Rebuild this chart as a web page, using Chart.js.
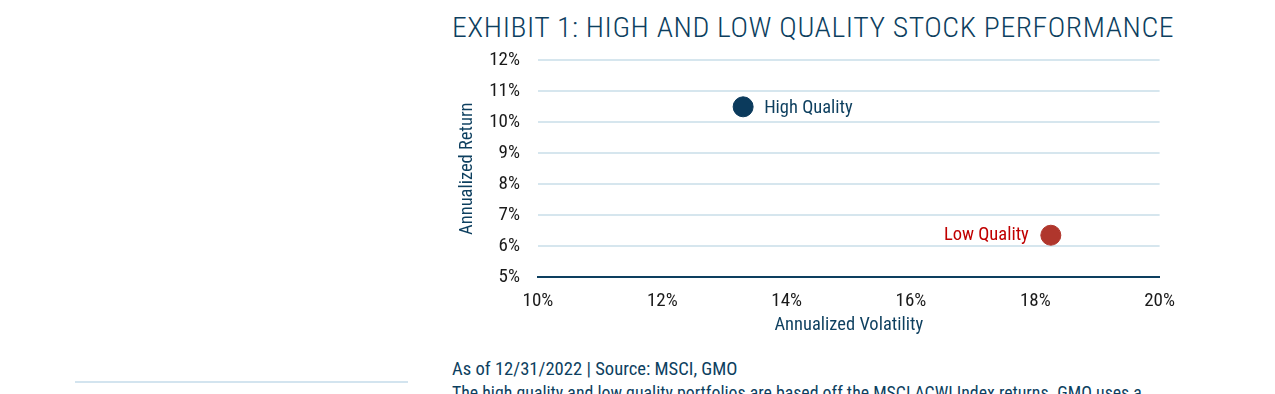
<!DOCTYPE html>
<html lang="en">
<head>
    <meta charset="UTF-8">
    <title>Exhibit 1: High and Low Quality Stock Performance</title>
    <script src="https://cdn.jsdelivr.net/npm/chart.js"></script>
    <style>
        body { margin: 0; background: #fff; font-family: 'Roboto Condensed', 'Liberation Sans Narrow', Roboto, sans-serif; overflow: hidden; }
        #title { position: absolute; left: 452px; top: 12px; font-size: 27px; font-weight: 300; color: #0d3f5f; white-space: nowrap; transform-origin: 0 0; letter-spacing: 0.5px; }
        #wrap { position: absolute; left: 440px; top: 31px; width: 748px; height: 309px; }
        #source { position: absolute; left: 452px; top: 358px; font-size: 18px; color: #0d3f5f; white-space: nowrap; transform-origin: 0 0; }
        #note { position: absolute; left: 452px; top: 382px; font-size: 18px; color: #0d3f5f; white-space: nowrap; transform-origin: 0 0; }
        #rule { position: absolute; left: 75px; top: 381px; width: 333px; height: 2px; background: #d3e4ef; }
    </style>
</head>
<body>
    <div id="title">EXHIBIT 1: HIGH AND LOW QUALITY STOCK PERFORMANCE</div>
    <div id="wrap"><canvas id="myChart"></canvas></div>
    <div id="source">As of 12/31/2022 | Source: MSCI, GMO</div>
    <div id="note">The high quality and low quality portfolios are based off the MSCI ACWI Index returns. GMO uses a</div>
    <div id="rule"></div>
    <script>
    // data
    const portfolios = ['High Quality', 'Low Quality'];
    const volatility = [13.3, 18.25];   // x, %
    const returns = [10.5, 6.35];       // y, %
    const pointColors = ['#0b3a5c', '#b0362c'];
    const labelColors = ['#0d3f5f', '#c00000'];
    const xTicks = [10, 12, 14, 16, 18, 20];
    const yTicks = [5, 6, 7, 8, 9, 10, 11, 12];

    const fam = "'Roboto Condensed', 'Liberation Sans Narrow', Roboto, sans-serif";

    // squeeze html text to the width it has in the picture
    function fitWidth(id, w) {
        const el = document.getElementById(id);
        el.style.transform = 'scaleX(' + (w / el.offsetWidth) + ')';
    }
    fitWidth('title', 722);
    fitWidth('source', 286);
    fitWidth('note', 690);

    // labels beside the points
    const pointLabels = {
        id: 'pointLabels',
        afterDatasetsDraw(chart) {
            const ctx = chart.ctx;
            ctx.save();
            ctx.font = '18.5px ' + fam;
            ctx.textBaseline = 'middle';
            chart.data.datasets.forEach((ds, i) => {
                const pt = chart.getDatasetMeta(i).data[0];
                ctx.fillStyle = labelColors[i];
                if (i === 0) {
                    ctx.textAlign = 'left';
                    ctx.fillText(ds.label, pt.x + 21, pt.y + 2);
                } else {
                    ctx.textAlign = 'right';
                    ctx.fillText(ds.label, pt.x - 22, pt.y);
                }
            });
            ctx.restore();
        }
    };

    const ctx = document.getElementById('myChart').getContext('2d');
    new Chart(ctx, {
        type: 'scatter',
        data: {
            datasets: portfolios.map((name, i) => ({
                label: name,
                data: [{ x: volatility[i], y: returns[i] }],
                backgroundColor: pointColors[i],
                borderColor: pointColors[i],
                pointRadius: 10,
                pointHoverRadius: 10
            }))
        },
        options: {
            responsive: true,
            maintainAspectRatio: false,
            animation: false,
            layout: { padding: { top: 1, right: 13 } },
            plugins: {
                legend: { display: false },
                tooltip: { enabled: false }
            },
            scales: {
                x: {
                    min: 10, max: 20,
                    afterBuildTicks: s => { s.ticks = xTicks.map(v => ({ value: v })); },
                    afterFit: s => { s.height = 63; },
                    grid: { display: false, drawTicks: false },
                    border: { color: '#0d3f5f', width: 2 },
                    ticks: { color: '#1a1a1a', font: { size: 19, family: fam }, padding: 13, maxRotation: 0,
                             callback: v => v + '%' },
                    title: { display: true, text: 'Annualized Volatility', color: '#0d3f5f',
                             font: { size: 18.5, family: fam }, padding: { top: 2 } }
                },
                y: {
                    min: 5, max: 12,
                    afterBuildTicks: s => { s.ticks = yTicks.map(v => ({ value: v })); },
                    afterFit: s => { s.width = 98; },
                    grid: { color: '#d6e6ee', lineWidth: 2, drawTicks: false },
                    border: { display: false },
                    ticks: { color: '#1a1a1a', font: { size: 19, family: fam }, padding: 18,
                             callback: v => v + '%' },
                    title: { display: true, text: 'Annualized Return', color: '#0d3f5f',
                             font: { size: 18.5, family: fam }, padding: { top: 16, bottom: 0 } }
                }
            }
        },
        plugins: [pointLabels]
    });
    </script>
</body>
</html>
